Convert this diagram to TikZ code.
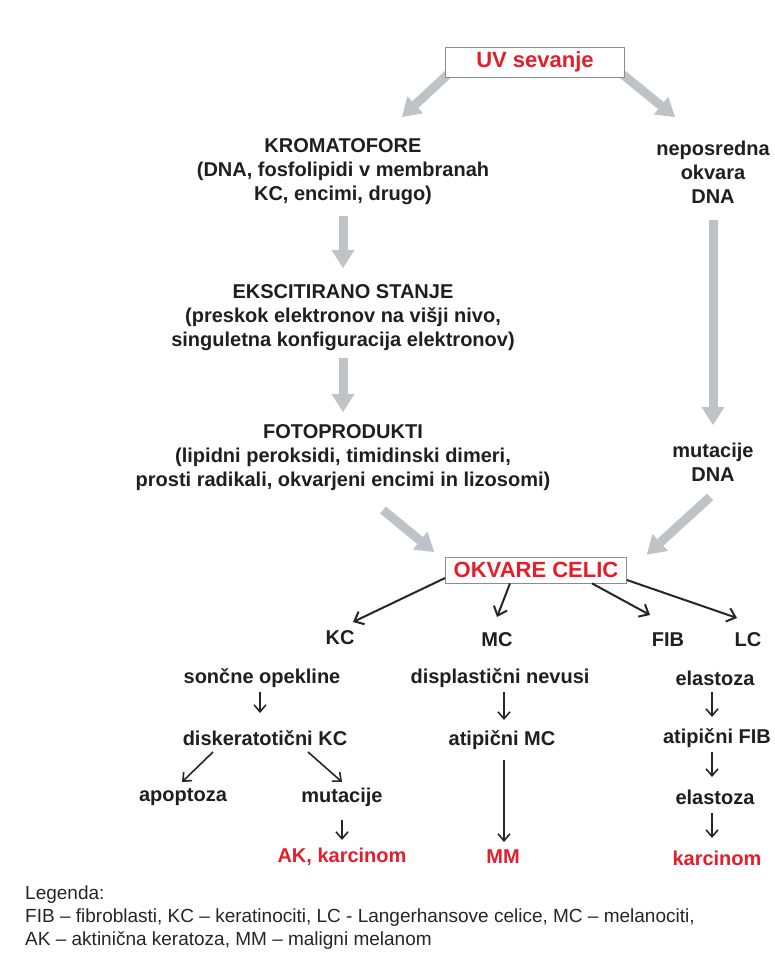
\documentclass[tikz,border=0pt]{standalone}
\usepackage{fontspec}
\setmainfont{Liberation Sans}
\usetikzlibrary{arrows.meta}
\definecolor{garr}{RGB}{190,195,199}
\definecolor{rtxt}{RGB}{228,30,42}
\begin{document}
\begin{tikzpicture}[x=1pt,y=-1pt,
  txt/.style={font=\fontsize{20}{24}\selectfont\bfseries, align=center, inner sep=0pt, text=black!88},
  redtxt/.style={font=\fontsize{20}{24}\selectfont\bfseries, align=center, inner sep=0pt, text=rtxt},
  titlebox/.style={draw=black!45, line width=0.8pt, fill=white, font=\fontsize{22}{26}\selectfont\bfseries, text=rtxt, inner sep=0pt},
  garrow/.style={draw=garr, line width=9pt, -{Triangle[width=23pt,length=18pt,line width=0pt]}},
  barrow/.style={draw=black!85, line width=2pt, -{Straight Barb[length=8pt,width=14pt]}},
  sarrow/.style={draw=black!85, line width=1.6pt, -{Straight Barb[length=7pt,width=12pt]}},
  legendtxt/.style={font=\fontsize{19}{23}\selectfont, align=left, inner sep=0pt, text=black!85}
]
\useasboundingbox[fill=white] (0,0) rectangle (774,958);

% text nodes
\node[titlebox, minimum width=179pt, minimum height=30pt] (uv) at (535,62) {UV sevanje};
\node[txt] (krom) at (343,172) {KROMATOFORE\\(DNA, fosfolipidi v membranah\\KC, encimi, drugo)};
\node[txt] (nep) at (713,172) {neposredna\\okvara\\DNA};
\node[txt] (eksc) at (343,318) {EKSCITIRANO STANJE\\(preskok elektronov na višji nivo,\\singuletna konfiguracija elektronov)};
\node[txt] (foto) at (343,458) {FOTOPRODUKTI\\(lipidni peroksidi, timidinski dimeri,\\prosti radikali, okvarjeni encimi in lizosomi)};
\node[txt] (mutdna) at (713,462) {mutacije\\DNA};

\node[txt] (kc) at (340,638) {KC};
\node[txt] (mc) at (497,640) {MC};
\node[txt] (fib) at (668,640) {FIB};
\node[txt] (lc) at (748,640) {LC};

\node[txt] (sonc) at (262,678) {sončne opekline};
\node[txt] (disk) at (265,738) {diskeratotični KC};
\node[txt] (apop) at (183,797) {apoptoza};
\node[txt] (mutk) at (342,797) {mutacije};
\node[redtxt] (akk) at (342,857) {AK, karcinom};

\node[txt] (disp) at (500,678) {displastični nevusi};
\node[txt] (atmc) at (502,740) {atipični MC};
\node[redtxt] (mm) at (503,857) {MM};

\node[txt] (elas1) at (715,678) {elastoza};
\node[txt] (atfib) at (717,738) {atipični FIB};
\node[txt] (elas2) at (715,797) {elastoza};
\node[redtxt] (karc) at (717,858) {karcinom};

\node[legendtxt, anchor=north west] (legend) at (25,886) {Legenda:\\FIB – fibroblasti, KC – keratinociti, LC - Langerhansove celice, MC – melanociti,\\AK – aktinična keratoza, MM – maligni melanom};

% gray arrows
\coordinate (tl) at (402,117);
\coordinate (tr) at (675,117);
\draw[garrow] ([xshift=6pt,yshift=6pt]uv.south west) -- (tl);
\draw[garrow] ([xshift=-6pt,yshift=6pt]uv.south east) -- (tr);
\node[titlebox, minimum width=179pt, minimum height=30pt] at (uv) {UV sevanje};
\draw[garrow] (krom) ++(0,44) -- ++(0,52);
\draw[garrow] (eksc) ++(0,40) -- ++(0,54);
\draw[garrow] (nep) ++(0,48) -- ++(0,205);

% bottom box
\node[titlebox, minimum width=181pt, minimum height=26pt] (okv) at (536,570) {OKVARE CELIC};
\draw[garrow] (foto) ++(40,52) -- ([xshift=-11pt,yshift=18pt]okv.west);
\draw[garrow] (mutdna) ++(-3,35) -- ([xshift=20pt,yshift=2pt]okv.north east);

% black arrows from OKVARE CELIC
\draw[barrow] ([yshift=-8pt]okv.west) -- ([xshift=13pt,yshift=16pt]kc.center);
\draw[barrow] ([xshift=-26pt]okv.south) -- ([yshift=23pt]mc.center);
\draw[barrow] ([xshift=56pt]okv.south) -- ([xshift=-18pt,yshift=25pt]fib.center);
\draw[barrow] ([yshift=-10pt]okv.east) -- ([xshift=-11pt,yshift=22pt]lc.center);

% small arrows
\draw[sarrow] (sonc) ++(-2,14) -- ([xshift=-5pt,yshift=25pt]disk.center);
\draw[sarrow] (disk) ++(-52,14) -- ([xshift=-1pt,yshift=15pt]apop.center);
\draw[sarrow] (disk) ++(43,14) -- ([yshift=15pt]mutk.center);
\draw[sarrow] (mutk) ++(0,23) -- ([yshift=17pt]akk.center);
\draw[sarrow] (disp) ++(4,14) -- ([xshift=2pt,yshift=20pt]atmc.center);
\draw[sarrow] (atmc) ++(2,20) -- ([xshift=1pt,yshift=15pt]mm.center);
\draw[sarrow] (elas1) ++(-3,14) -- ([xshift=-5pt,yshift=21pt]atfib.center);
\draw[sarrow] (atfib) ++(-5,14) -- ([xshift=-3pt,yshift=20pt]elas2.center);
\draw[sarrow] (elas2) ++(-3,16) -- ([xshift=-5pt,yshift=20pt]karc.center);
\end{tikzpicture}
\end{document}
